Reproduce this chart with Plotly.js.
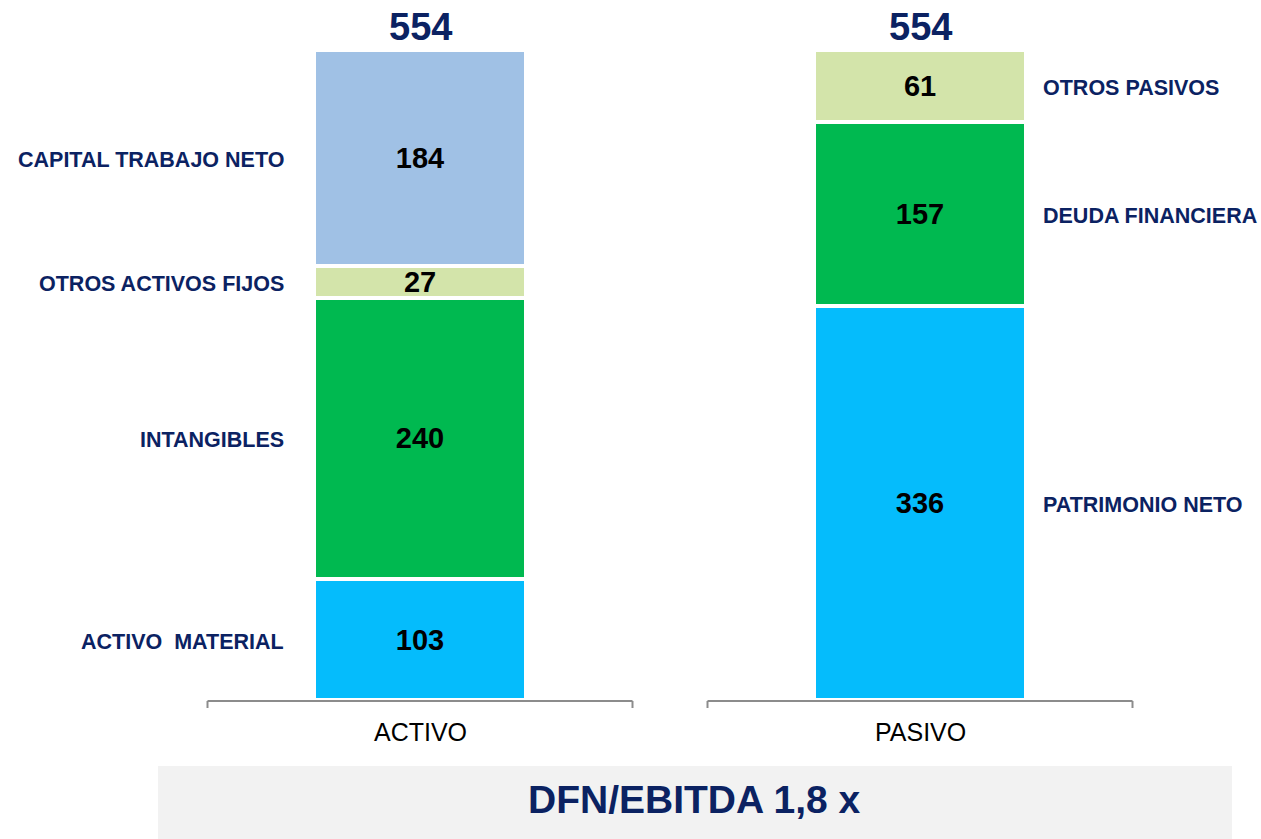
<!DOCTYPE html>
<html>
<head>
<meta charset="utf-8">
<script src="https://cdn.plot.ly/plotly-3.0.1.min.js"></script>
<style>
html,body{margin:0;padding:0;background:#fff;}
#chart{width:1261px;height:839px;}
</style>
</head>
<body>
<div id="chart"></div>
<script>
// ---- data ----
var categories = ['ACTIVO', 'PASIVO'];
var totals = [554, 554];

var activoLabels = ['ACTIVO\u00a0 MATERIAL', 'INTANGIBLES', 'OTROS ACTIVOS FIJOS', 'CAPITAL TRABAJO NETO'];
var activoValues = [103, 240, 27, 184];
var activoColors = ['#05bcfc', '#00b950', '#d3e4aa', '#a0c1e5'];

var pasivoLabels = ['PATRIMONIO NETO', 'DEUDA FINANCIERA', 'OTROS PASIVOS'];
var pasivoValues = [336, 157, 61];
var pasivoColors = ['#05bcfc', '#00b950', '#d3e4aa'];

var ratioText = 'DFN/EBITDA 1,8 x';

// ---- styles ----
var FONT = 'Liberation Sans, Arial, sans-serif';
var NAVY = '#0b2262';
var BARW = 0.424;

var traces = [];
var annotations = [];

function addStack(cat, labels, values, colors, side) {
  var cum = 0;
  for (var i = 0; i < values.length; i++) {
    traces.push({
      type: 'bar',
      x: [cat],
      y: [values[i]],
      width: BARW,
      marker: {color: colors[i], line: {color: '#ffffff', width: 4}},
      text: [String(values[i])],
      textposition: 'inside',
      insidetextanchor: 'middle',
      constraintext: 'none',
      textangle: 0,
      textfont: {family: FONT, size: 29, color: '#000000', weight: 'bold'},
      hoverinfo: 'skip',
      showlegend: false
    });
    var mid = cum + values[i] / 2;
    annotations.push({
      x: cat, y: mid, xref: 'x', yref: 'y',
      text: labels[i], showarrow: false,
      xanchor: side === 'left' ? 'right' : 'left',
      yanchor: 'middle',
      xshift: side === 'left' ? -134 : 121,
      yshift: -2,
      font: {family: FONT, size: 21.5, color: NAVY, weight: 'bold'}
    });
    cum += values[i];
  }
}

addStack(categories[0], activoLabels, activoValues, activoColors, 'left');
addStack(categories[1], pasivoLabels, pasivoValues, pasivoColors, 'right');

// totals above bars
for (var k = 0; k < categories.length; k++) {
  annotations.push({
    x: categories[k], y: totals[k], xref: 'x', yref: 'y',
    text: String(totals[k]), showarrow: false,
    xanchor: 'center', yanchor: 'middle', yshift: 23,
    font: {family: FONT, size: 38, color: NAVY, weight: 'bold'}
  });
  // category labels below
  annotations.push({
    x: categories[k], y: 0.127, xref: 'x', yref: 'paper',
    text: categories[k], showarrow: false,
    xanchor: 'center', yanchor: 'middle',
    font: {family: FONT, size: 25, color: '#000000'}
  });
}

// ratio box text
annotations.push({
  x: 0.551, y: 0.0465, xref: 'paper', yref: 'paper',
  text: ratioText, showarrow: false,
  xanchor: 'center', yanchor: 'middle',
  font: {family: FONT, size: 39, color: NAVY, weight: 'bold'}
});

// brackets under each category
var shapes = [];
var lineY = 1 - 701 / 839, tickY = 1 - 708 / 839;
for (var c = 0; c < categories.length; c++) {
  var x0 = c - 0.425, x1 = c + 0.425;
  var ln = {color: '#8c8c8c', width: 2};
  shapes.push({type: 'line', xref: 'x', yref: 'paper', x0: x0, x1: x1, y0: lineY, y1: lineY, line: ln});
  shapes.push({type: 'line', xref: 'x', yref: 'paper', x0: x0, x1: x0, y0: lineY, y1: tickY, line: ln});
  shapes.push({type: 'line', xref: 'x', yref: 'paper', x0: x1, x1: x1, y0: lineY, y1: tickY, line: ln});
}
shapes.push({
  type: 'rect', xref: 'paper', yref: 'paper',
  x0: 158 / 1261, x1: 1232 / 1261, y0: 0, y1: 1 - 766 / 839,
  fillcolor: '#f2f2f2', line: {width: 0}, layer: 'below'
});

var layout = {
  width: 1261, height: 839,
  margin: {l: 0, r: 0, t: 0, b: 0, pad: 0},
  paper_bgcolor: '#ffffff', plot_bgcolor: 'rgba(0,0,0,0)',
  barmode: 'stack',
  showlegend: false,
  hovermode: false,
  xaxis: {
    type: 'category', categoryorder: 'array', categoryarray: categories,
    range: [-0.84, 1.682], showgrid: false, zeroline: false,
    showline: false, showticklabels: false, ticks: '', fixedrange: true
  },
  yaxis: {
    range: [-118.5, 596.6], showgrid: false, zeroline: false,
    showline: false, showticklabels: false, ticks: '', fixedrange: true
  },
  shapes: shapes,
  annotations: annotations,
  font: {family: FONT}
};

Plotly.newPlot('chart', traces, layout, {displayModeBar: false, staticPlot: true});
</script>
</body>
</html>
